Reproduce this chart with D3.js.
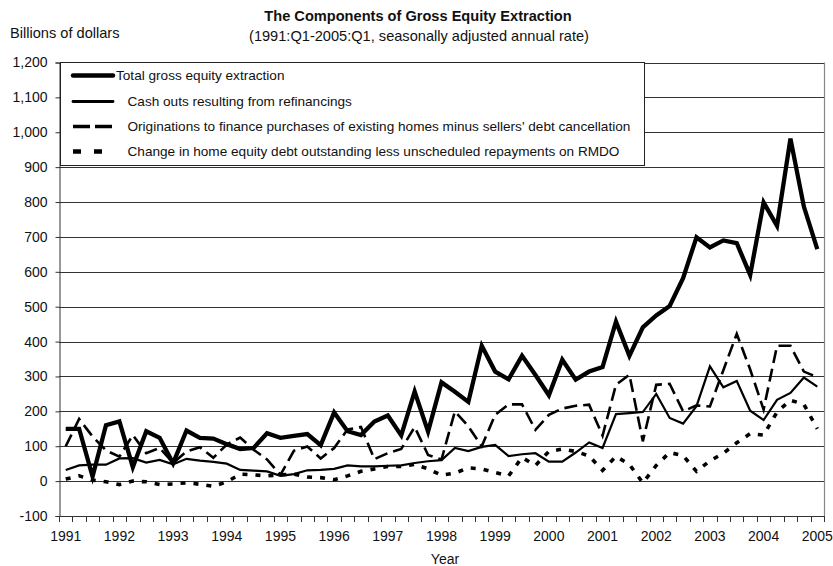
<!DOCTYPE html>
<html><head><meta charset="utf-8">
<script src="https://cdn.jsdelivr.net/npm/d3@7"></script>
<style>
body{margin:0;background:#fff;}
svg{display:block;font-family:"Liberation Sans",Arial,sans-serif;}
</style>
</head><body>
<svg id="c" width="833" height="566"></svg>
<script>
// ---------- data ----------
const years = [1991,1992,1993,1994,1995,1996,1997,1998,1999,2000,2001,2002,2003,2004,2005];
const quarterNames = ["Q1","Q2","Q3","Q4"];
const quarters = [];
years.forEach(yr => quarterNames.forEach(q => { if (!(yr === 2005 && q !== "Q1")) quarters.push(yr + ":" + q); }));

const totalExtraction = [150,150,13,160,171,40,143,124,51,145,124,122,106,92,95,137,124,130,135,103,
  197,143,132,171,188,131,257,142,283,256,227,388,314,292,359,304,246,348,291,314,
  327,457,359,441,475,502,582,699,670,690,682,591,799,732,982,787,665];
const cashOuts = [32,45,47,47,65,66,53,61,48,64,59,55,50,32,30,28,15,20,31,32,
  35,45,42,42,44,45,52,57,60,95,86,98,104,72,77,80,56,56,82,111,
  95,192,195,198,250,181,165,215,329,269,287,202,175,233,253,297,271];
const originations = [100,178,128,88,70,132,80,95,52,85,97,67,105,125,90,62,18,87,99,65,
  95,148,155,63,80,92,155,75,62,200,157,100,190,220,220,147,190,208,216,219,
  130,276,305,114,276,279,200,217,214,318,422,320,205,388,388,314,298];
const homeEquity = [6,15,3,-2,-10,0,-2,-10,-8,-5,-9,-15,-2,20,18,15,18,20,12,10,
  4,15,28,35,42,42,48,35,17,23,38,35,25,15,68,45,85,92,85,72,
  31,71,48,-5,45,82,73,28,58,80,110,136,132,198,232,220,150];

const yTicks = [-100,0,100,200,300,400,500,600,700,800,900,1000,1100,1200];
const seriesNames = [
  "Total gross equity extraction",
  "Cash outs resulting from refinancings",
  "Originations to finance purchases of existing homes minus sellers' debt cancellation",
  "Change in home equity debt outstanding less unscheduled repayments on RMDO"
];
const titleText = "The Components of Gross Equity Extraction";
const subtitleText = "(1991:Q1-2005:Q1, seasonally adjusted annual rate)";
const yAxisTitle = "Billions of dollars";
const xAxisTitle = "Year";

// ---------- styles ----------
const styles = [
  {width: 4.3, dash: null},
  {width: 2.2, dash: null},
  {width: 2.6, dash: "13,6"},
  {width: 3.6, dash: "5,8"}
];
const seriesData = [totalExtraction, cashOuts, originations, homeEquity];

// ---------- layout ----------
const svg = d3.select("#c");
const plotL = 59, plotR = 824, plotT = 62.5, plotB = 516;

const x = d3.scaleBand().domain(quarters).range([plotL, plotR]).padding(0);
const y = d3.scaleLinear().domain([-100, 1200]).range([plotB, plotT]);
const cx = d => x(d) + x.bandwidth() / 2;

// titles
svg.append("text").attr("x", 418).attr("y", 20.5).attr("text-anchor", "middle")
  .attr("font-size", 14.6).attr("font-weight", "bold").attr("fill", "#111").text(titleText);
svg.append("text").attr("x", 419).attr("y", 41).attr("text-anchor", "middle")
  .attr("font-size", 14.6).attr("fill", "#111").text(subtitleText);
svg.append("text").attr("x", 10).attr("y", 38).attr("font-size", 14.6)
  .attr("fill", "#111").text(yAxisTitle);

// gridlines
svg.append("g").selectAll("line").data(yTicks).join("line")
  .attr("x1", plotL).attr("x2", plotR)
  .attr("y1", d => Math.round(y(d)) + 0.5).attr("y2", d => Math.round(y(d)) + 0.5)
  .attr("stroke", "#333").attr("stroke-width", 1);

// right border
svg.append("line").attr("x1", plotR + 0.5).attr("x2", plotR + 0.5)
  .attr("y1", y(1200)).attr("y2", y(-100)).attr("stroke", "#888").attr("stroke-width", 1.2);

// y axis
const fmt = d3.format(",");
const yAxis = svg.append("g").attr("transform", `translate(${plotL + 0.5},0)`)
  .call(d3.axisLeft(y).tickValues(yTicks).tickSize(4).tickPadding(8)
    .tickFormat(d => fmt(d).replace("\u2212", "-")));
yAxis.select(".domain").attr("stroke", "#333");
yAxis.selectAll(".tick line").attr("stroke", "#333");
yAxis.selectAll("text").attr("font-size", 14).attr("fill", "#111")
  .attr("font-family", "'Liberation Sans', Arial, sans-serif");

// x axis labels (one per year at Q1)
const xAxis = svg.append("g").attr("transform", `translate(0,${Math.round(y(-100)) + 0.5})`)
  .call(d3.axisBottom(x).tickSize(0).tickPadding(15)
    .tickValues(quarters.filter(q => q.endsWith("Q1")))
    .tickFormat(q => q.slice(0, 4)));
xAxis.select(".domain").remove();
xAxis.selectAll("text").attr("font-size", 14).attr("fill", "#111")
  .attr("font-family", "'Liberation Sans', Arial, sans-serif");

// x boundary ticks
const bounds = quarters.map(q => x(q)).concat([x(quarters[quarters.length - 1]) + x.bandwidth()]);
svg.append("g").selectAll("line").data(bounds).join("line")
  .attr("x1", d => Math.round(d) + 0.5).attr("x2", d => Math.round(d) + 0.5)
  .attr("y1", Math.round(y(-100))).attr("y2", Math.round(y(-100)) + 6)
  .attr("stroke", "#333").attr("stroke-width", 1);

svg.append("text").attr("x", 445).attr("y", 564).attr("text-anchor", "middle")
  .attr("font-size", 14).attr("fill", "#111").text(xAxisTitle);

// series lines (draw in reverse order so total is on top)
const line = d3.line().x((d, i) => cx(quarters[i])).y(d => y(d));
[3, 2, 1, 0].forEach(k => {
  svg.append("path").datum(seriesData[k])
    .attr("d", line).attr("fill", "none").attr("stroke", "#000")
    .attr("stroke-width", styles[k].width)
    .attr("stroke-dasharray", styles[k].dash)
    .attr("stroke-linejoin", "miter").attr("stroke-linecap", "butt");
});

// legend
const lg = svg.append("g");
lg.append("rect").attr("x", 60.5).attr("y", 62.5).attr("width", 584).attr("height", 103)
  .attr("fill", "#fff").attr("stroke", "#222").attr("stroke-width", 1);
const rowsY = [75.5, 101.5, 126.5, 151.5];
const legendDash = [null, null, "17,5", "8,13"];
const legendWidth = [4.5, 2.8, 3.5, 4.5];
const textX = [116, 127.5, 127.5, 127.5];
seriesNames.forEach((name, k) => {
  lg.append("line").attr("x1", 73).attr("x2", 113).attr("y1", rowsY[k]).attr("y2", rowsY[k])
    .attr("stroke", "#000").attr("stroke-width", legendWidth[k])
    .attr("stroke-dasharray", legendDash[k])
    .attr("stroke-linecap", k < 2 ? "round" : "butt");
  lg.append("text").attr("x", textX[k]).attr("y", rowsY[k] + 4.8)
    .attr("font-size", 13.6).attr("fill", "#111").text(name);
});
</script>
</body></html>
